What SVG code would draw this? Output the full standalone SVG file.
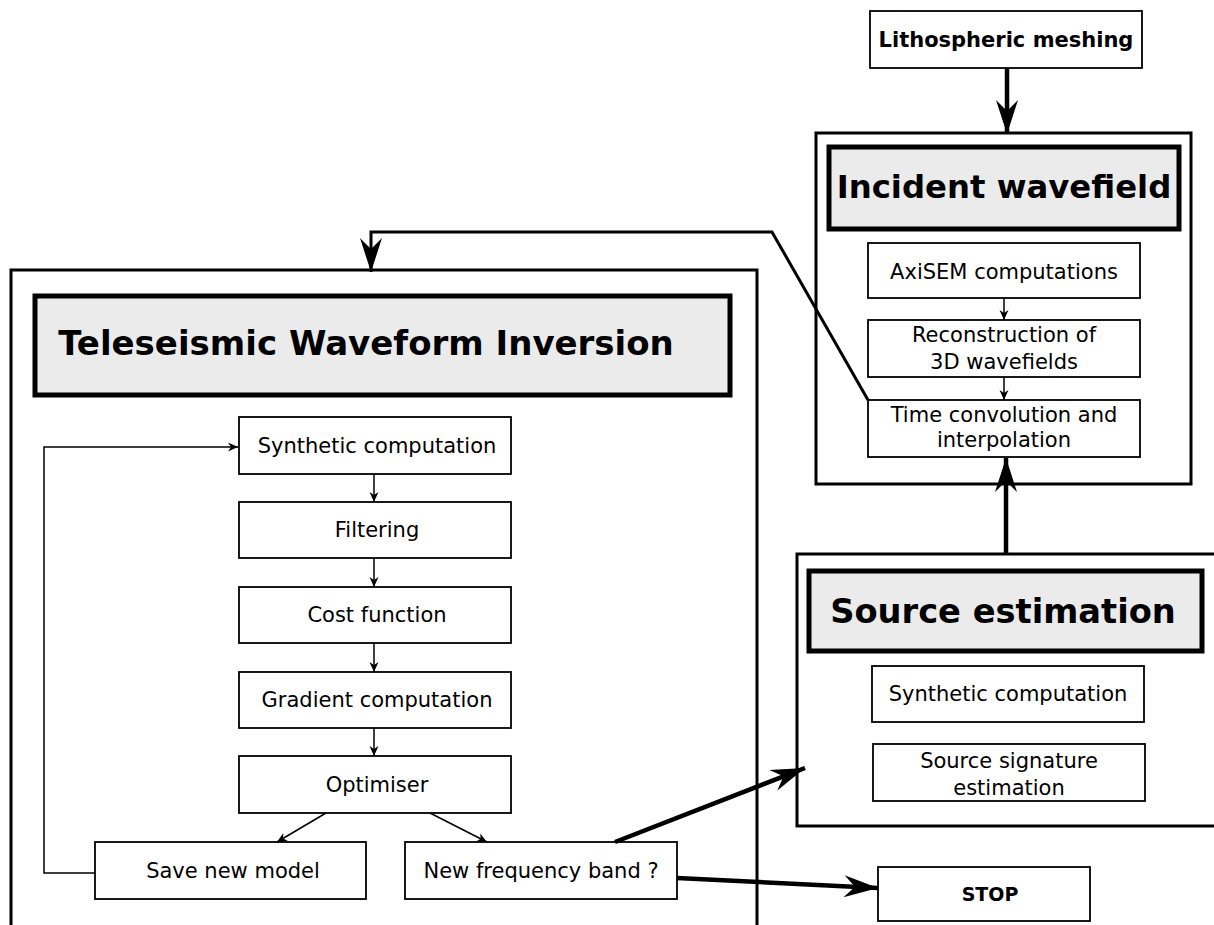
<svg xmlns="http://www.w3.org/2000/svg" width="1214" height="925" viewBox="0 0 1214 925">
<style>
text{font-family:"DejaVu Sans","Liberation Sans",sans-serif;fill:#000}
.t{font-size:21px;text-anchor:middle}
.b{font-weight:bold;text-anchor:middle}
.outer{fill:#fff;stroke:#000;stroke-width:3}
.head{fill:#ebebeb;stroke:#000;stroke-width:5}
.box{fill:#fff;stroke:#000;stroke-width:1.8}
.thin{fill:none;stroke:#000;stroke-width:1.5}
.thick{fill:none;stroke:#000;stroke-width:4.5}
.mid{fill:none;stroke:#000;stroke-width:3}
</style>
<defs>
<marker id="ah" markerUnits="userSpaceOnUse" markerWidth="14" markerHeight="12" viewBox="-12 -6 14 12" refX="0" refY="0" orient="auto" overflow="visible">
<path d="M0,0 L-10,-4.5 L-7,0 L-10,4.5 Z" fill="#000"/>
</marker>
<marker id="AH" markerUnits="userSpaceOnUse" markerWidth="40" markerHeight="24" viewBox="-36 -12 40 24" refX="0" refY="0" orient="auto" overflow="visible">
<path d="M0,0 L-34,-11 L-23,0 L-34,11 Z" fill="#000"/>
</marker>
</defs>

<g id="twi">
<rect class="outer" x="11" y="270" width="746" height="670"/>
<rect class="head" x="35" y="296" width="695" height="99"/>
<text class="b" x="366" y="355" font-size="34">Teleseismic Waveform Inversion</text>
</g>
<g id="incident">
<rect class="outer" x="816" y="133" width="375" height="351"/>
<rect class="head" x="829" y="147" width="350" height="82"/>
<text class="b" x="1004" y="198" font-size="32.3">Incident wavefield</text>
</g>
<g id="source">
<rect class="outer" x="797" y="554" width="430" height="272"/>
<rect class="head" x="809" y="571" width="393" height="80"/>
<text class="b" x="1003" y="623" font-size="33.7">Source estimation</text>
</g>

<g id="lith"><rect class="box" x="870" y="11" width="272" height="57"/><text class="b" x="1006" y="47" font-size="21">Lithospheric meshing</text></g>
<g id="axisem"><rect class="box" x="868" y="243" width="272" height="55"/><text class="t" x="1004" y="279">AxiSEM computations</text></g>
<g id="recon"><rect class="box" x="868" y="320" width="272" height="57"/><text class="t" x="1004" y="342">Reconstruction of</text><text class="t" x="1004" y="369">3D wavefields</text></g>
<g id="timeconv"><rect class="box" x="868" y="400" width="272" height="57"/><text class="t" x="1004" y="422">Time convolution and</text><text class="t" x="1004" y="447">interpolation</text></g>
<g id="se-synth"><rect class="box" x="872" y="666" width="272" height="56"/><text class="t" x="1008" y="701">Synthetic computation</text></g>
<g id="se-sig"><rect class="box" x="873" y="744" width="272" height="57"/><text class="t" x="1009" y="768">Source signature</text><text class="t" x="1009" y="795">estimation</text></g>

<g id="synth"><rect class="box" x="239" y="417" width="272" height="57"/><text class="t" x="377" y="453">Synthetic computation</text></g>
<g id="filter"><rect class="box" x="239" y="502" width="272" height="56"/><text class="t" x="377" y="537">Filtering</text></g>
<g id="cost"><rect class="box" x="239" y="587" width="272" height="56"/><text class="t" x="377" y="622">Cost function</text></g>
<g id="grad"><rect class="box" x="239" y="672" width="272" height="56"/><text class="t" x="377" y="707">Gradient computation</text></g>
<g id="opt"><rect class="box" x="239" y="756" width="272" height="57"/><text class="t" x="377" y="792">Optimiser</text></g>
<g id="save"><rect class="box" x="95" y="842" width="271" height="57"/><text class="t" x="233" y="878">Save new model</text></g>
<g id="newfreq"><rect class="box" x="405" y="842" width="272" height="57"/><text class="t" x="541" y="878">New frequency band ?</text></g>
<g id="stop"><rect class="box" x="878" y="867" width="212" height="54"/><text class="b" x="990" y="901" font-size="19">STOP</text></g>

<g id="connectors">
<line class="thin" x1="374" y1="474" x2="374" y2="502" marker-end="url(#ah)"/>
<line class="thin" x1="374" y1="558" x2="374" y2="587" marker-end="url(#ah)"/>
<line class="thin" x1="374" y1="643" x2="374" y2="672" marker-end="url(#ah)"/>
<line class="thin" x1="374" y1="728" x2="374" y2="756" marker-end="url(#ah)"/>
<line class="thin" x1="326" y1="813" x2="277" y2="842" marker-end="url(#ah)"/>
<line class="thin" x1="430" y1="813" x2="487" y2="842" marker-end="url(#ah)"/>
<polyline class="thin" points="95,873 44,873 44,447 238,447" marker-end="url(#ah)"/>
<line class="thin" x1="1004" y1="298" x2="1004" y2="320" marker-end="url(#ah)"/>
<line class="thin" x1="1004" y1="377" x2="1004" y2="400" marker-end="url(#ah)"/>
<line class="thick" x1="1007" y1="68" x2="1007" y2="134" marker-end="url(#AH)"/>
<line class="thick" x1="1006" y1="554" x2="1006" y2="458" marker-end="url(#AH)"/>
<polyline class="mid" points="868,400 772,232 371,232 371,272" marker-end="url(#AH)"/>
<line class="thick" x1="615" y1="842" x2="805" y2="768" marker-end="url(#AH)"/>
<line class="thick" x1="677" y1="878" x2="878" y2="888" marker-end="url(#AH)"/>
</g>
</svg>
